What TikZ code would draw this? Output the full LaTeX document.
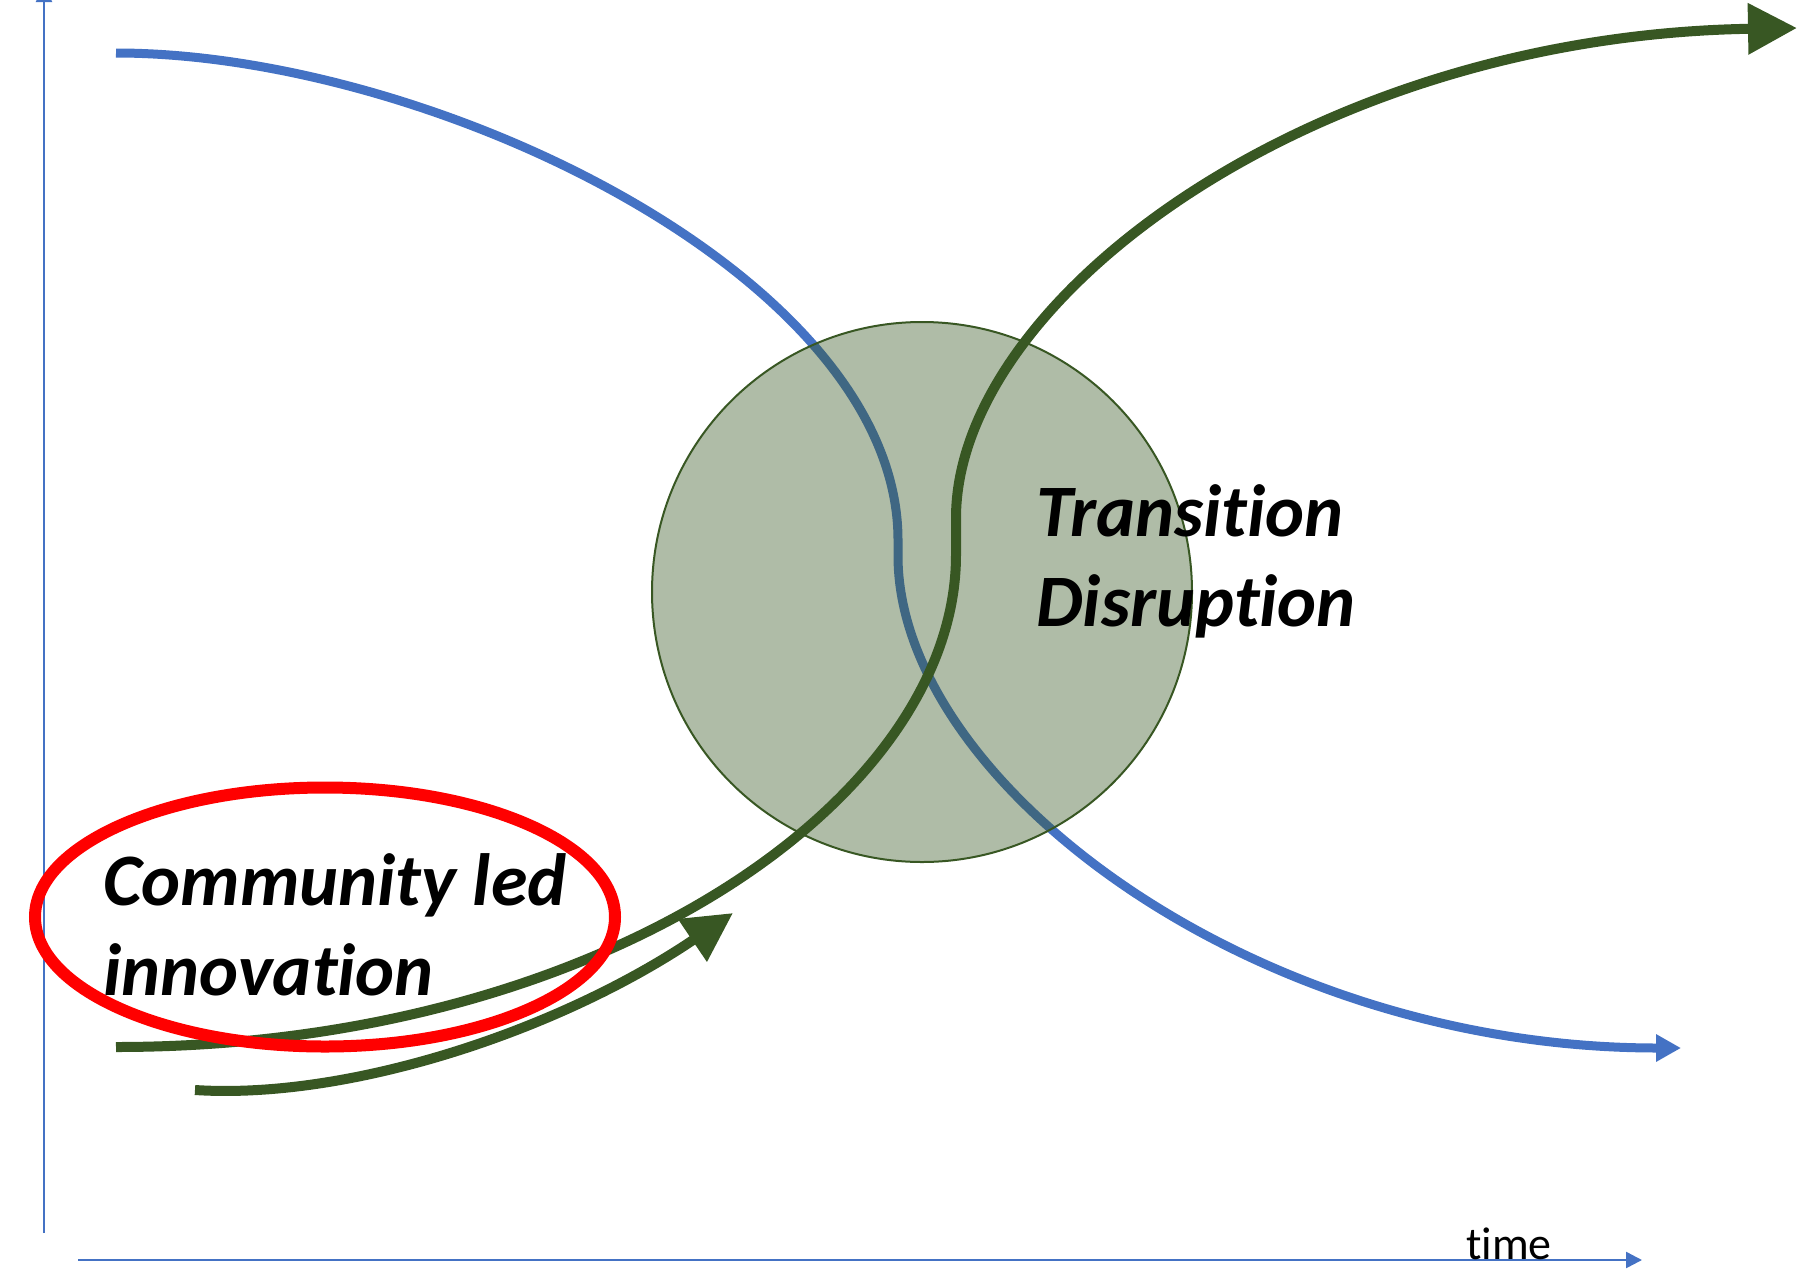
\documentclass[tikz,border=0pt]{standalone}
\usepackage{fontspec}
\setmainfont{Carlito}[Ligatures={NoCommon,NoRequired,NoContextual}]
\usetikzlibrary{arrows.meta,shapes.geometric}
\definecolor{axisblue}{HTML}{4472C4}
\definecolor{leafgreen}{HTML}{385723}
\tikzset{>/.tip={Triangle[length=16pt,width=16pt]},
  bigtip/.tip={Triangle[length=49pt,width=49pt]},
  bluetip/.tip={Triangle[length=25pt,width=26pt]},
  bigword/.style={font=\fontsize{74}{90}\selectfont\bfseries\itshape, inner sep=0, align=left, anchor=base west}}

\begin{document}
\begin{tikzpicture}[x=1pt,y=-1pt]
\clip (0,0) rectangle (1807,1269);
\coordinate (ytop) at (44,-14);
\coordinate (ybot) at (44,1233);
\coordinate (xl) at (78,1260);
\coordinate (xr) at (1642,1260);
\draw[axisblue,line width=2.5pt,->] (ybot) -- (ytop);
\draw[axisblue,line width=2.5pt,->] (xl) -- (xr);
\node[anchor=base west,inner sep=0,font=\fontsize{46}{46}\selectfont] (time) at (1466,1259) {time};

% old curve
\coordinate (b0) at (116,53);
\coordinate (b1) at (898,540);
\coordinate (b2) at (898,556);
\coordinate (b3) at (1681,1048);
\draw[axisblue,line width=9pt,-bluetip] (b0) .. controls (430,53) and (898,276) .. (b1) -- (b2) .. controls (898,780) and (1249,1048) .. (b3);

\node[circle,draw=leafgreen,line width=2pt,fill=leafgreen,fill opacity=0.4,minimum size=540pt,inner sep=0] (hub) at (922,592) {};

% new curve
\coordinate (g0) at (116,1047);
\coordinate (g1) at (956,555);
\coordinate (g2) at (956,518);
\coordinate (g3) at (1797,28);
\draw[leafgreen,line width=10pt,-bigtip] (g0) .. controls (600,1047) and (956,800) .. (g1) -- (g2) .. controls (956,300) and (1310,36) .. (g3);

\coordinate (s0) at (195,1090);
\coordinate (s1) at (733,913);
\draw[leafgreen,line width=10pt,-bigtip] (s0) .. controls (350,1100) and (560,1030) .. (s1);

\node[ellipse,draw=red,line width=12pt,minimum width=580pt,minimum height=259pt,inner sep=0] (ring) at (325,917) {};

\node[bigword] (shift) at (1036,626) {Transition\\Disruption};
\node[bigword] (local) at (103,995) {Community led\\innovation};
\end{tikzpicture}
\end{document}
